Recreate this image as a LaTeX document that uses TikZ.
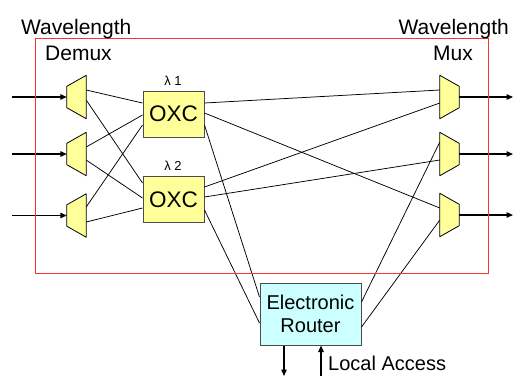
\documentclass[tikz,border=0pt]{standalone}
\usepackage{fontspec}
\setmainfont{Liberation Sans}
\usetikzlibrary{calc,arrows.meta}
\definecolor{ly}{HTML}{FFFF99}
\definecolor{lc}{HTML}{CCFFFF}
\definecolor{rb}{HTML}{FF3030}
\begin{document}
\begin{tikzpicture}[x=1pt,y=-1pt,
  lbl/.style={font=\fontsize{21}{24}\selectfont, inner sep=0},
  trapbox/.style={minimum width=19pt, minimum height=43pt, inner sep=0, draw=none},
  trapline/.style={draw=black, fill=ly, line width=0.8pt, line join=round},
  oxcbox/.style={draw=black!70, fill=ly, minimum width=61pt, minimum height=46pt, inner sep=0, font=\fontsize{22.5}{24}\selectfont, line width=1pt},
  routerbox/.style={draw=black!70, fill=lc, minimum width=101pt, minimum height=62pt, inner sep=0, align=center, font=\fontsize{20}{24}\selectfont, line width=1pt},
  conn/.style={draw=black, line width=0.75pt},
  ioarrow/.style={draw=black, line width=1.3pt, -{Triangle[length=6.5pt,width=5.5pt]}},
  lam/.style={font=\fontsize{13}{15}\selectfont, inner sep=0}
]
\useasboundingbox (0,0) rectangle (514,376);

% demux and mux boxes
\node[trapbox] (d1) at (76.5,97) {};
\node[trapbox] (d2) at (76.5,154) {};
\node[trapbox] (d3) at (76.5,215.5) {};
\node[trapbox] (m1) at (449.5,97) {};
\node[trapbox] (m2) at (449.5,154) {};
\node[trapbox] (m3) at (449.5,215) {};

% OXCs and router
\node[oxcbox] (x1) at (173.5,114) {OXC};
\node[oxcbox] (x2) at (173.5,199.5) {OXC};
\node[routerbox] (r) at (310.5,314) {Electronic\\[-1pt]Router};

\node[lam, anchor=base] (l1) at (173,85) {λ 1};
\node[lam, anchor=base] (l2) at (173,170) {λ 2};

% connectors demux -> OXC
\draw[conn] ($(d1.east)+(0,-7)$) -- ($(x1.west)+(0,-11)$);
\draw[conn] ($(d1.east)+(0,3)$) -- ($(x2.west)+(0,-16.5)$);
\draw[conn] ($(d2.east)+(0,-7)$) -- ($(x1.west)+(0,1)$);
\draw[conn] ($(d2.east)+(0,6)$) -- ($(x2.west)+(0,-1.5)$);
\draw[conn] ($(d3.east)+(0,-8.5)$) -- ($(x1.west)+(0,11)$);
\draw[conn] ($(d3.east)+(0,6.5)$) -- ($(x2.west)+(0,8.5)$);

% OXC -> mux
\draw[conn] ($(x1.east)+(0,-11)$) -- ($(m1.west)+(0,-7)$);
\draw[conn] ($(x1.east)+(0,-1)$) -- ($(m3.west)+(0,-7)$);
\draw[conn] ($(x2.east)+(0,-12.5)$) -- ($(m1.west)+(0,6)$);
\draw[conn] ($(x2.east)+(0,-2.5)$) -- ($(m2.west)+(0,6)$);

% OXC -> router, router -> mux
\draw[conn] ($(x1.east)+(0,11)$) -- ($(r.west)+(0,-17)$);
\draw[conn] ($(x2.east)+(0,10.5)$) -- ($(r.west)+(0,9)$);
\draw[conn] ($(r.east)+(0,-12)$) -- ($(m2.west)+(0,-12)$);
\draw[conn] ($(r.east)+(0,13)$) -- ($(m3.west)+(0,5)$);

% trapezoids
\foreach \n in {d1,d2,d3}{
  \draw[trapline] (\n.north east) -- (\n.south east) -- ($(\n.south west)+(0,-11)$) -- ($(\n.north west)+(0,11)$) -- cycle;
}
\foreach \n in {m1,m2,m3}{
  \draw[trapline] (\n.north west) -- (\n.south west) -- ($(\n.south east)+(0,-11)$) -- ($(\n.north east)+(0,11)$) -- cycle;
}

% input / output arrows
\coordinate (i1) at (12,97);
\coordinate (i2) at (12,154);
\coordinate (i3) at (12,215.5);
\coordinate (o1) at (513,97);
\coordinate (o2) at (513,154);
\coordinate (o3) at (513,215);
\draw[ioarrow] (i1) -- (d1.west);
\draw[ioarrow] (i2) -- (d2.west);
\draw[ioarrow] (i3) -- (d3.west);
\draw[ioarrow] (m1.east) -- (o1);
\draw[ioarrow] (m2.east) -- (o2);
\draw[ioarrow] (m3.east) -- (o3);

% local access arrows
\coordinate (ra) at (284,376);
\coordinate (rc) at (321,376);
\draw[ioarrow] (r.south -| ra) -- (ra);
\draw[ioarrow] (rc) -- (rc |- r.south);

% red boundary
\draw[rb, line width=0.9pt] (35,38) rectangle (488,273);

% labels
\node[lbl, anchor=base west] (tw1) at (21,34) {Wavelength};
\node[lbl, anchor=base west] (tdm) at (45,60) {Demux};
\node[lbl, anchor=base east] (tw2) at (509,34) {Wavelength};
\node[lbl, anchor=base east] (tmx) at (473,60) {Mux};
\node[font=\fontsize{20}{24}\selectfont, inner sep=0, anchor=base west] (tla) at (328,370) {Local Access};
\end{tikzpicture}
\end{document}
